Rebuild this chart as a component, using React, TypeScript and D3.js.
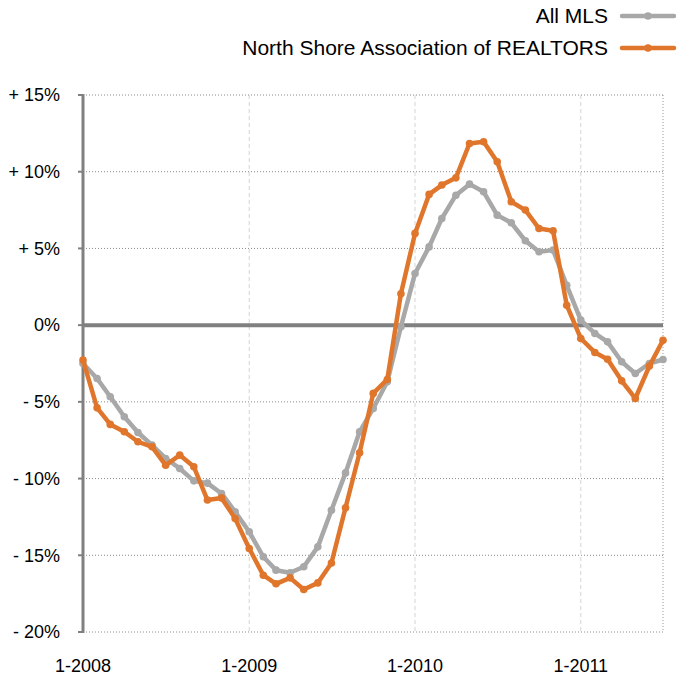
import React from 'react';
import * as d3 from 'd3';

// monthly values, 1-2008 .. 7-2011 (year-over-year change, %)
const allMls = [
  -2.5, -3.48, -4.67, -5.97, -7.0, -7.82, -8.69, -9.34, -10.15, -10.3, -10.97, -12.17,
  -13.47, -15.1, -15.97, -16.14, -15.75, -14.45, -12.06, -9.63, -6.95, -5.43, -3.69, -0.1,
  3.37, 5.1, 6.95, 8.47, 9.19, 8.69, 7.17, 6.67, 5.5, 4.78, 4.89, 2.6,
  0.33, -0.54, -1.09, -2.39, -3.15, -2.5, -2.24,
];
const northShore = [
  -2.28, -5.39, -6.47, -6.95, -7.6, -7.93, -9.13, -8.47, -9.23, -11.4, -11.26, -12.6,
  -14.56, -16.3, -16.86, -16.47, -17.23, -16.8, -15.5, -11.9, -8.32, -4.45, -3.54, 2.05,
  5.98, 8.52, 9.13, 9.6, 11.84, 11.95, 10.65, 8.04, 7.5, 6.3, 6.15, 1.3,
  -0.87, -1.78, -2.22, -3.63, -4.78, -2.67, -0.98,
];
const yTicks = [15, 10, 5, 0, -5, -10, -15, -20];
const yTickLabels = ['+ 15%', '+ 10%', '+ 5%', '0%', '- 5%', '- 10%', '- 15%', '- 20%'];
const xTickYears = [2008, 2009, 2010, 2011];

const series = [
  { name: 'All MLS', values: allMls, color: '#a8a8a8' },
  { name: 'North Shore Association of REALTORS', values: northShore, color: '#e0762c' },
];

const W = 678;
const H = 675;
const margin = { top: 95, right: 15, bottom: 43, left: 83 };
const font = '"Liberation Sans", Arial, sans-serif';

export default function App() {
  const x = d3.scaleTime()
    .domain([new Date(2008, 0, 1), new Date(2011, 6, 1)])
    .range([margin.left, W - margin.right]);
  const y = d3.scaleLinear()
    .domain([-20, 15])
    .range([H - margin.bottom, margin.top]);

  const dateOf = (i: number) => new Date(2008, i, 1);
  const line = d3.line<number>()
    .x((d, i) => x(dateOf(i)))
    .y(d => y(d));

  const x0 = margin.left;
  const x1 = W - margin.right;

  return (
    <svg width={W} height={H} style={{ position: 'absolute', left: 0, top: 0, fontFamily: font }}>
      <rect width={W} height={H} fill="#fff" />

      {/* vertical year grid */}
      {xTickYears.slice(1).map(yr => (
        <line key={yr} x1={x(new Date(yr, 0, 1))} x2={x(new Date(yr, 0, 1))}
          y1={y(15)} y2={y(-20)} stroke="#d4d4d4" strokeWidth={1} strokeDasharray="4,3" />
      ))}
      <line x1={x1} x2={x1} y1={y(15)} y2={y(-20)} stroke="#999" strokeWidth={1} strokeDasharray="1,2" />

      {/* horizontal grid */}
      {yTicks.filter(t => t !== 0).map(t => (
        <line key={t} x1={x0} x2={x1} y1={y(t)} y2={y(t)}
          stroke="#8a8a8a" strokeWidth={1} strokeDasharray="1,2" />
      ))}

      {/* y ticks and labels */}
      {yTicks.map((t, i) => (
        <g key={t}>
          <line x1={x0 - 5} x2={x0} y1={y(t)} y2={y(t)} stroke="#808080" strokeWidth={2} />
          <text x={60} y={y(t)} dy="0.35em" textAnchor="end" fontSize={18} fill="#000">
            {yTickLabels[i]}
          </text>
        </g>
      ))}

      {/* axis and zero line */}
      <line x1={x0} x2={x0} y1={y(15) - 1} y2={y(-20) + 1} stroke="#808080" strokeWidth={3} />
      <line x1={x0} x2={x1} y1={y(0)} y2={y(0)} stroke="#808080" strokeWidth={4} />

      {/* x labels */}
      {xTickYears.map(yr => (
        <text key={yr} x={x(new Date(yr, 0, 1))} y={666} dy="0.35em" textAnchor="middle" fontSize={18}>
          {`1-${yr}`}
        </text>
      ))}

      {/* series */}
      {series.map(s => (
        <g key={s.name}>
          <path d={line(s.values) || ''} fill="none" stroke={s.color} strokeWidth={4.5}
            strokeLinejoin="round" strokeLinecap="round" />
          {s.values.map((v, i) => (
            <circle key={i} cx={x(dateOf(i))} cy={y(v)} r={3.8} fill={s.color} />
          ))}
        </g>
      ))}

      {/* legend */}
      {series.map((s, i) => {
        const ly = 16 + i * 32;
        return (
          <g key={s.name}>
            <text x={608} y={ly} dy="0.35em" textAnchor="end" fontSize={21}>{s.name}</text>
            <line x1={622} x2={674} y1={ly} y2={ly} stroke={s.color} strokeWidth={4.5} strokeLinecap="round" />
            <circle cx={648} cy={ly} r={3.8} fill={s.color} />
          </g>
        );
      })}
    </svg>
  );
}
